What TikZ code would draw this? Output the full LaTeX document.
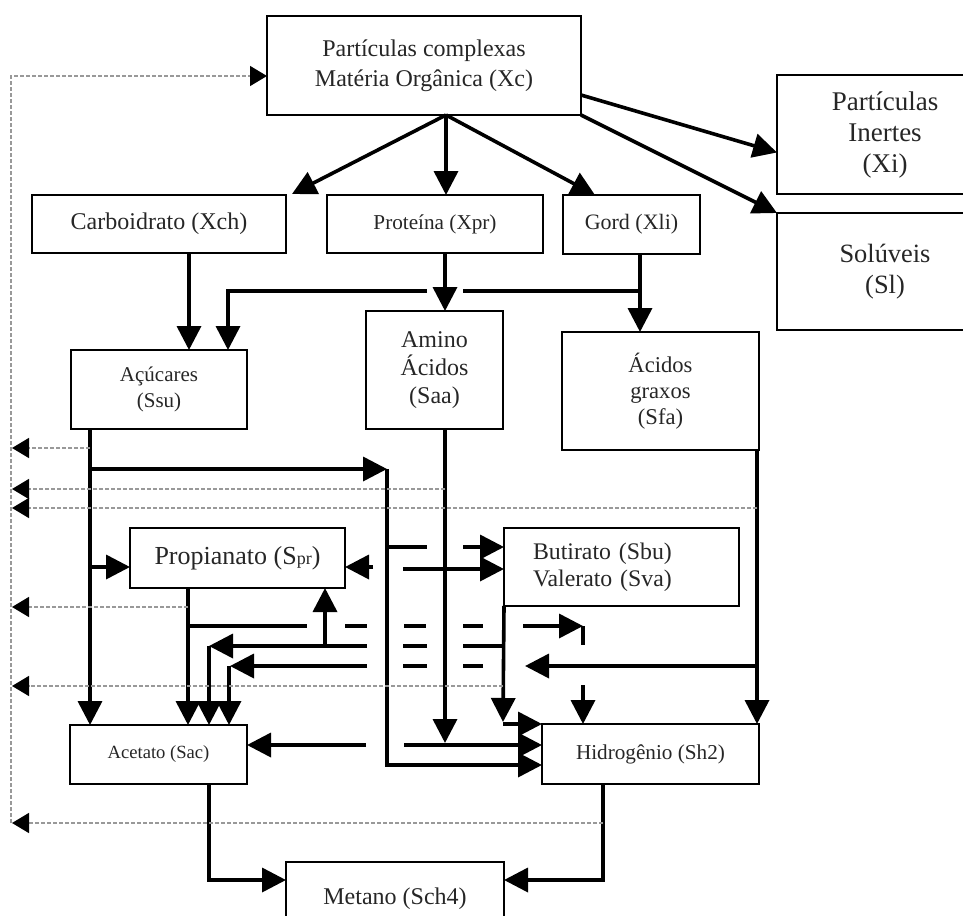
\documentclass[tikz,border=0pt]{standalone}
\usepackage{fontspec}
\setmainfont{Liberation Serif}
\usetikzlibrary{arrows.meta, calc}

\tikzset{
  box/.style={draw, line width=1pt, inner sep=0pt, outer sep=0pt, align=center, text=black!85},
  flow/.style={line width=1.8pt, line join=miter, -{Triangle[length=12pt, width=12pt]}},
  bus/.style={line width=1.8pt},
  recycle/.style={black!40, line width=0.7pt, dash pattern=on 2pt off 1pt,
    -{Triangle[length=8.5pt, width=10pt, color=black]}},
}

\begin{document}
\begin{tikzpicture}[x=0.5pt, y=-0.5pt]
    \useasboundingbox (0,0) rectangle (963,915);
    \clip (0,0) rectangle (963,915);
    % compartments
    \node[box, minimum width=157pt, minimum height=49.5pt, font=\fontsize{12}{15}\selectfont] (Xc) at (424,65.5) {Partículas complexas\\Matéria Orgânica (Xc)};
    \node[box, minimum width=108pt, minimum height=59.5pt, font=\fontsize{13.5}{15.5}\selectfont] (Xi) at (885,134.5) {Partículas\\Inertes\\(Xi)};
    \node[box, minimum width=108pt, minimum height=58.5pt, font=\fontsize{13.2}{15.5}\selectfont] (Sl) at (885,271.5) {Solúveis\\(Sl)};
    \node[box, minimum width=127pt, minimum height=29pt, font=\fontsize{12}{14}\selectfont] (Xch) at (159,224) {Carboidrato (Xch)};
    \node[box, minimum width=108pt, minimum height=29pt, font=\fontsize{10.6}{12}\selectfont] (Xpr) at (435,224) {Proteína (Xpr)};
    \node[box, minimum width=68.5pt, minimum height=29.5pt, font=\fontsize{11}{12}\selectfont] (Xli) at (631.5,224.5) {Gord (Xli)};
    \node[box, minimum width=88pt, minimum height=39.5pt, font=\fontsize{10.5}{13}\selectfont] (Ssu) at (159,389.5) {Açúcares\\(Ssu)};
    \node[box, minimum width=68.5pt, minimum height=59pt, font=\fontsize{12}{14}\selectfont] (Saa) at (434.5,370) {Amino\\Ácidos\\(Saa)};
    \node[box, minimum width=98.5pt, minimum height=59pt, font=\fontsize{11.3}{13}\selectfont] (Sfa) at (660.5,391) {Ácidos\\graxos\\(Sfa)};
    \node[box, minimum width=107.5pt, minimum height=30pt, font=\fontsize{13}{15}\selectfont] (Spr) at (237.5,558) {Propianato (S{\fontsize{9}{9}\selectfont pr})};
    \node[box, minimum height=39pt, inner xsep=14.5pt, text width=88.5pt, align=left, font=\fontsize{11.9}{13.5}\selectfont] (Sbu) at (621.5,567) {Butirato (Sbu)\\Valerato (Sva)};
    \node[box, minimum width=88.5pt, minimum height=29.5pt, font=\fontsize{9.3}{10}\selectfont] (Sac) at (158.5,754.5) {Acetato (Sac)};
    \node[box, minimum width=108.5pt, minimum height=30pt, font=\fontsize{10.6}{12}\selectfont] (Sh2) at (650.5,754) {Hidrogênio (Sh2)};
    \node[box, minimum width=109pt, minimum height=36.5pt, font=\fontsize{12}{14}\selectfont] (Sch4) at (395,898.5) {Metano (Sch4)};

    % disintegration
    \coordinate (hub) at ($(Xc.south)+(22,0)$);
    \draw[flow] (hub) -- ($(Xch.north east)+(6,-1)$);
    \draw[flow] (hub) -- (hub |- Xpr.north);
    \draw[flow] (hub) -- ($(Xli.north west)+(32,0)$);
    \draw[flow] ($(Xc.south east)+(0,-20)$) -- ($(Xi.west)+(0,18)$);
    \draw[flow] (Xc.south east) -- (Sl.north west);

    % hydrolysis
    \draw[flow] (Xch.south -| 189,0) -- (Ssu.north -| 189,0);
    \draw[flow] (Xpr.south -| 445,0) -- (Saa.north -| 445,0);
    \draw[flow] (Xli.south -| 640,0) -- (Sfa.north -| 640,0);
    \draw[bus] (640,291) -- (463,291);
    \draw[flow] (427,291) -- (228,291) -- (Ssu.north -| 228,0);

    % sugars
    \draw[flow] (Ssu.south -| 90,0) -- (Sac.north -| 90,0);
    \draw[flow] (90,469) -- (387,469);
    \draw[flow] (387,469) -- (387,765) -- (Sh2.west |- 0,765);
    \draw[flow] (90,567) -- (Spr.west |- 0,567);
    \draw[bus] (387,547) -- (427,547);
    \draw[flow] (463,547) -- (Sbu.west |- 0,547);

    % amino acids
    \draw[flow] (Saa.south -| 445,0) -- (445,743);
    \draw[flow] (404,745) -- (Sh2.west |- 0,745);
    \draw[flow] (366,745) -- (Sac.east |- 0,745);
    \draw[flow] (403,569) -- (Sbu.west |- 0,569);
    \draw[flow] (373,567) -- (Spr.east |- 0,567);

    % propionate
    \draw[flow] (Spr.south -| 188,0) -- (Sac.north -| 188,0);
    \draw[bus] (188,626) -- (307,626) (345,626) -- (367,626) (404,626) -- (426,626) (463,626) -- (483,626);
    \draw[flow] (523,626) -- (583,626);
    \draw[bus] (583,626) -- (583,645);
    \draw[flow] (583,685) -- (Sh2.north -| 583,0);

    % butyrate and valerate
    \draw[flow] (Sbu.south west) -- (503,722);
    \draw[flow] (503,724) -- (Sh2.north west);
    \draw[bus] (503,646) -- (463,646) (427,646) -- (403,646);
    \draw[flow] (367,646) -- (209,646);
    \draw[flow] (209,646) -- (Sac.north -| 209,0);
    \draw[flow] (325,646) -- (Spr.south -| 325,0);

    % fatty acids
    \draw[flow] ($(Sfa.south east)+(-2,0)$) -- ($(Sh2.north east)+(-2,0)$);
    \draw[flow] (757,666) -- (525,666);
    \draw[bus] (483,666) -- (463,666) (427,666) -- (403,666);
    \draw[flow] (367,666) -- (230,666);
    \draw[flow] (229,666) -- (Sac.north -| 229,0);

    % methane
    \draw[flow] (Sac.south -| 209,0) -- (209,880) -- (Sch4.west |- 0,880);
    \draw[flow] (Sh2.south -| 603,0) -- (603,880) -- (Sch4.east |- 0,880);

    % decay back to Xc
    \draw[recycle] (11,823) -- (11,76) -- (Xc.west |- 0,76);
    \draw[recycle] (603,823) -- (12,823);
    \draw[recycle] (90,448) -- (12,448);
    \draw[recycle] (445,489) -- (12,489);
    \draw[recycle] (757,508) -- (12,508);
    \draw[recycle] (188,607) -- (12,607);
    \draw[recycle] (503,686) -- (12,686);
\end{tikzpicture}
\end{document}
